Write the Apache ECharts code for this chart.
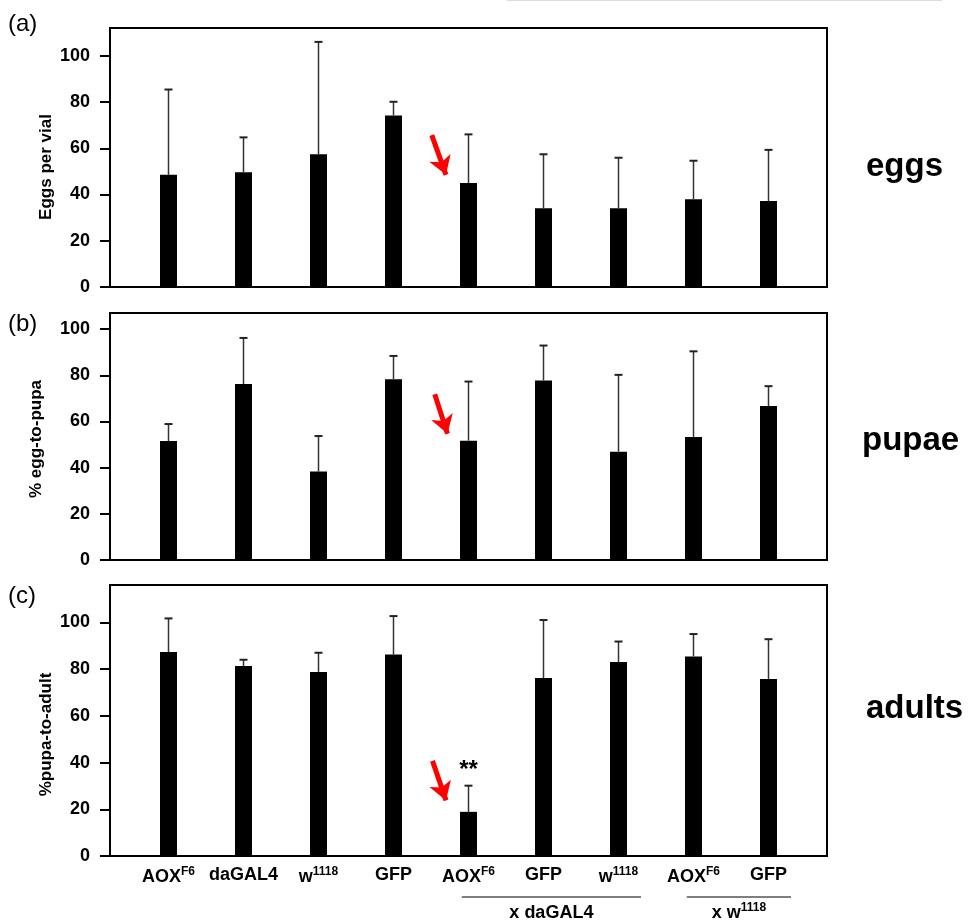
<!DOCTYPE html>
<html><head><meta charset="utf-8">
<script src="https://cdn.jsdelivr.net/npm/echarts@6/dist/echarts.min.js"></script>
<style>html,body{margin:0;padding:0;background:#fff}#c{width:969px;height:922px}</style>
</head><body><div id="c"></div>
<script>
// ---- data ----
const catMain = ['AOX', 'daGAL4', 'w', 'GFP', 'AOX', 'GFP', 'w', 'AOX', 'GFP'];
const catSup  = ['F6', '', '1118', '', 'F6', '', '1118', 'F6', ''];
const eggsMean = [48.5, 49.6, 57.4, 74.2, 45.0, 34.1, 34.1, 38.0, 37.2];
const eggsSD   = [36.9, 15.1, 48.6, 5.9, 21.0, 23.3, 21.8, 16.6, 22.1];
const pupaMean = [51.5, 76.2, 38.3, 78.3, 51.7, 77.8, 46.9, 53.3, 66.7];
const pupaSD   = [7.4, 20.0, 15.4, 10.1, 25.6, 15.1, 33.3, 37.1, 8.6];
const adultMean = [87.3, 81.3, 78.8, 86.2, 18.9, 76.2, 83.0, 85.4, 75.8];
const adultSD   = [14.4, 2.7, 8.2, 16.5, 11.2, 24.8, 8.8, 9.6, 17.0];
const yTicks = [0, 20, 40, 60, 80, 100];
const xTicks = [0, 1, 2, 3, 4, 5, 6, 7, 8];
const sigEggs = ['', '', '', '', '', '', '', '', ''];
const sigPupa = ['', '', '', '', '', '', '', '', ''];
const sigAdult = ['', '', '', '', '**', '', '', '', ''];
const yNames = ['Eggs per vial', '% egg-to-pupa', '%pupa-to-adult'];
const panelTags = ['(a)', '(b)', '(c)'];
const panelNames = ['eggs', 'pupae', 'adults'];
const groupLabels = [
  { main: 'x daGAL4', sup: '', from: 4, to: 6 },
  { main: 'x w', sup: '1118', from: 7, to: 8 }
];
// red arrows (data coordinates: [tail, tip]) per panel
const arrows = [
  [[3.51, 65.7], [3.70, 48.5]],
  [[3.55, 71.8], [3.72, 54.7]],
  [[3.52, 40.7], [3.70, 23.8]]
];

// ---- layout ----
const FONT = "Arial, 'Liberation Sans', sans-serif";
const grids = [
  { left: 110, top: 28, width: 717, height: 259 },
  { left: 110, top: 313, width: 717, height: 247 },
  { left: 110, top: 585, width: 717, height: 271 }
];
const yMax = [112, 107, 116];
const nameGaps = [55, 65, 55];
const namePad = [[0, 19, 0, 0], [0, 5, 0, 0], [0, 28, 0, 0]];
const tagTops = [12, 312, 584];
const nameLefts = [866, 862, 866];
const nameTops = [150, 424, 692];
const means = [eggsMean, pupaMean, adultMean];
const sds = [eggsSD, pupaSD, adultSD];
const sigs = [sigEggs, sigPupa, sigAdult];

function catLabel(i) {
  return '{m|' + catMain[i] + '}' + (catSup[i] ? '{s|' + catSup[i] + '}' : '');
}

const chart = echarts.init(document.getElementById('c'), null, { renderer: 'canvas' });

const xAxis = [], yAxis = [], series = [], title = [];
for (let i = 0; i < 3; i++) {
  xAxis.push({
    gridIndex: i, type: 'value', min: -0.78, max: 8.78,
    axisLine: { show: true, onZero: false, lineStyle: { color: '#000', width: 2 } },
    axisTick: { show: false },
    splitLine: { show: false },
    axisLabel: i < 2 ? { show: false } : {
      show: true, customValues: xTicks, margin: 10,
      formatter: v => catLabel(Math.round(v)),
      rich: {
        m: { fontFamily: FONT, fontSize: 18, fontWeight: 'bold', color: '#000' },
        s: { fontFamily: FONT, fontSize: 12, fontWeight: 'bold', color: '#000', padding: [0, 0, 11, 0] }
      }
    }
  });
  yAxis.push({
    gridIndex: i, type: 'value', min: 0, max: yMax[i],
    name: yNames[i], nameLocation: 'middle', nameGap: nameGaps[i], nameMoveOverlap: false,
    nameTextStyle: { fontFamily: FONT, fontSize: 17, fontWeight: 'bold', color: '#000', padding: namePad[i] },
    axisLine: { show: true, onZero: false, lineStyle: { color: '#000', width: 2 } },
    axisTick: { show: true, customValues: yTicks, length: 10, lineStyle: { color: '#000', width: 2 } },
    axisLabel: { customValues: yTicks, fontFamily: FONT, fontSize: 18, fontWeight: 'bold', color: '#000', margin: 20 },
    splitLine: { show: false }
  });
  series.push({
    type: 'bar', xAxisIndex: i, yAxisIndex: i, barWidth: 17,
    itemStyle: { color: '#000' },
    data: means[i].map((m, j) => [xTicks[j], m]),
    silent: true,
    markLine: {
      silent: true, symbol: ['none', 'arrow'], symbolSize: [17, 18],
      lineStyle: { color: '#ff0000', width: 5, type: 'solid' },
      label: { show: false },
      data: [[{ coord: arrows[i][0] }, { coord: arrows[i][1] }]]
    }
  });
  const sig = sigs[i];
  series.push({
    type: 'custom', xAxisIndex: i, yAxisIndex: i, silent: true, z: 3,
    data: means[i].map((m, j) => [xTicks[j], m, m + sds[i][j]]),
    renderItem(params, api) {
      const x = api.value(0);
      const lo = api.coord([x, api.value(1)]);
      const hi = api.coord([x, api.value(2)]);
      const cap = 4;
      const children = [
        { type: 'line', shape: { x1: lo[0], y1: lo[1], x2: hi[0], y2: hi[1] }, style: { stroke: '#333', lineWidth: 1.5 } },
        { type: 'line', shape: { x1: hi[0] - cap, y1: hi[1], x2: hi[0] + cap, y2: hi[1] }, style: { stroke: '#222', lineWidth: 2 } }
      ];
      const s = sig[params.dataIndex];
      if (s) {
        children.push({ type: 'text', x: hi[0], y: hi[1] - 15,
          style: { text: s, fontFamily: FONT, fontSize: 24, fontWeight: 'bold', align: 'center', verticalAlign: 'middle', fill: '#000' } });
      }
      return { type: 'group', children };
    }
  });
  title.push({ text: panelTags[i], left: 8, top: tagTops[i], padding: 0,
    textStyle: { fontFamily: FONT, fontSize: 24, fontWeight: 'normal', color: '#000' } });
  title.push({ text: panelNames[i], left: nameLefts[i], top: nameTops[i], padding: 0,
    textStyle: { fontFamily: FONT, fontSize: 33, fontWeight: 'bold', color: '#000' } });
}

chart.setOption({
  animation: false,
  backgroundColor: '#fff',
  title,
  grid: grids.map(g => Object.assign({ show: true, borderColor: '#000', borderWidth: 2, backgroundColor: 'transparent' }, g)),
  xAxis, yAxis, series
});

// group annotations below panel (c), positioned through the x scale
const graphic = [
  { type: 'line', shape: { x1: 507, y1: 0.5, x2: 942, y2: 0.5 }, style: { stroke: '#dcdcdc', lineWidth: 1 }, silent: true }
];
groupLabels.forEach(g => {
  const x1 = chart.convertToPixel({ xAxisIndex: 2 }, g.from - 0.09);
  const x2 = chart.convertToPixel({ xAxisIndex: 2 }, g.to + 0.3);
  graphic.push({ type: 'line', silent: true, shape: { x1, y1: 897, x2, y2: 897 }, style: { stroke: '#000', lineWidth: 1.2 } });
  graphic.push({ type: 'text', silent: true, x: (x1 + x2) / 2, y: 913,
    style: {
      text: '{m|' + g.main + '}' + (g.sup ? '{s|' + g.sup + '}' : ''),
      align: 'center', verticalAlign: 'middle',
      rich: {
        m: { fontFamily: FONT, fontSize: 18, fontWeight: 'bold', fill: '#000' },
        s: { fontFamily: FONT, fontSize: 12, fontWeight: 'bold', fill: '#000', padding: [0, 0, 11, 0] }
      }
    } });
});
chart.setOption({ graphic });
</script>
</body></html>
